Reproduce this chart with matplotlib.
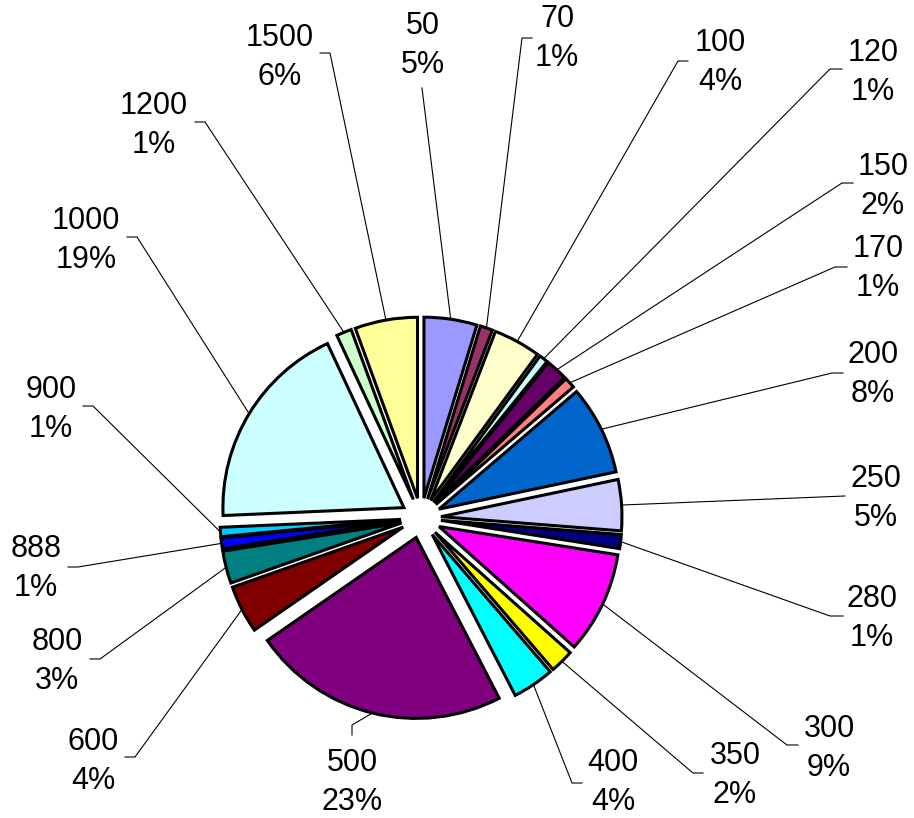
import numpy as np
import matplotlib
matplotlib.use('Agg')
from matplotlib import pyplot as plt

# pie data, clockwise from 12 o'clock (shares in percent)
categories = ['50', '70', '100', '120', '150', '170', '200', '250', '280', '300',
              '350', '400', '500', '600', '800', '888', '900', '1000', '1200', '1500']
shares = [4.72, 1.11, 4.22, 0.78, 1.94, 0.97, 7.95, 4.55, 1.25, 9.08,
          2.11, 3.72, 22.94, 4.25, 2.89, 0.97, 0.83, 18.75, 1.36, 5.58]
colors = ['#9999FF', '#993366', '#FFFFCC', '#CCFFFF', '#660066', '#FF8080', '#0066CC',
          '#CCCCFF', '#000080', '#FF00FF', '#FFFF00', '#00FFFF', '#800080', '#800000',
          '#008080', '#0000FF', '#00CCFF', '#CCFFFF', '#CCFFCC', '#FFFF99']

# label layout in pixels (centre of first text line), leader elbow and leader end
label_x = [423, 557, 720, 873, 883, 878, 873, 876, 872, 829,
           735, 613, 352, 93, 57, 36, 51, 86, 154, 280]
label_y = [23, 16, 40, 50, 164, 246, 352, 476, 596, 726,
           753, 760, 760, 739, 639, 546, 387, 218, 103, 35]
leader_elbow = [None, (522, 38), (678, 61), (830, 69), (842, 183), (835, 267), (832, 373),
                None, (830, 616), (787, 745), (693, 773), (572, 783), (352, 725),
                (135, 757), (100, 659), (78, 567), (93, 406), (137, 237), (205, 122),
                (330, 53)]
leader_end = [(422, 88), (532, 38), (688, 61), (842, 69), (853, 183), (847, 267), (843, 373),
              (845, 496), (843, 616), (798, 745), (703, 773), (582, 783), (352, 735),
              (125, 757), (90, 659), (68, 567), (83, 406), (127, 237), (195, 122),
              (320, 53)]

plt.rcParams['font.family'] = ['Liberation Sans', 'DejaVu Sans']

fig = plt.figure(figsize=(9.14, 8.18), dpi=100)
ax = fig.add_axes([0, 0, 1, 1])

# y axis runs downwards (pixel coords), so counterclock in data = clockwise on screen
wedges, _ = ax.pie(shares, colors=colors, explode=[20] * len(shares), radius=181,
                   center=(421, 518), startangle=-90, counterclock=True,
                   wedgeprops=dict(edgecolor='black', linewidth=2.2))
ax.set_xlim(0, 914)
ax.set_ylim(818, 0)
ax.set_aspect('equal')
ax.axis('off')

total = sum(shares)
for i, w in enumerate(wedges):
    thm = np.deg2rad((w.theta1 + w.theta2) / 2)
    arc = (w.center[0] + w.r * np.cos(thm), w.center[1] + w.r * np.sin(thm))
    pts = [arc] + ([leader_elbow[i]] if leader_elbow[i] else []) + [leader_end[i]]
    xs, ys = zip(*pts)
    ax.plot(xs, ys, color='black', lw=0.8, zorder=0)

    pct = '%d%%' % round(shares[i] / total * 100)
    ax.text(label_x[i], label_y[i] + 11, categories[i], ha='center', va='baseline', fontsize=22)
    ax.text(label_x[i], label_y[i] + 50, pct, ha='center', va='baseline', fontsize=22)

fig.savefig('out.png', dpi=100)
